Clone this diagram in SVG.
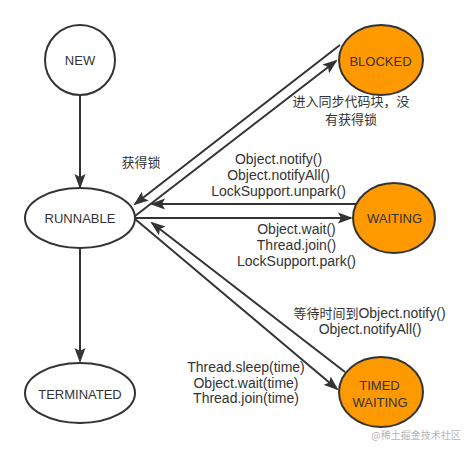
<svg xmlns="http://www.w3.org/2000/svg" width="473" height="453" viewBox="0 0 473 453">
<style>
.node{stroke:#333;stroke-width:2}
.w{fill:#fff}
.o{fill:#FF9900}
.lbl{font-family:"Liberation Sans","Noto Sans CJK SC",sans-serif;font-size:13px;fill:#333;text-anchor:middle}
.el{font-family:"Liberation Sans","Noto Sans CJK SC",sans-serif;font-size:14px;fill:#333;text-anchor:middle}
.cn{font-family:"Noto Sans CJK SC","Liberation Sans",sans-serif;font-size:13px;fill:#333;text-anchor:middle}
.edge{fill:none;stroke:#333;stroke-width:2}
</style>
<defs>
<marker id="arr" markerUnits="userSpaceOnUse" markerWidth="16" markerHeight="12" viewBox="0 0 16 12" refX="13" refY="6" orient="auto">
<path d="M0,0.5 L15,6 L0,11.5 L3,6 Z" fill="#333"/>
</marker>
</defs>
<rect width="473" height="453" fill="#fff"/>
<g id="connectors">
<line class="edge" x1="80" y1="95" x2="80" y2="187" marker-end="url(#arr)"/>
<line class="edge" x1="80" y1="248" x2="80" y2="361" marker-end="url(#arr)"/>
<line class="edge" x1="340" y1="45" x2="135" y2="204" marker-end="url(#arr)"/>
<line class="edge" x1="135" y1="216" x2="336" y2="61" marker-end="url(#arr)"/>
<line class="edge" x1="356" y1="204" x2="152" y2="204" marker-end="url(#arr)"/>
<line class="edge" x1="135" y1="218" x2="351" y2="218" marker-end="url(#arr)"/>
<line class="edge" x1="345" y1="372" x2="152" y2="223" marker-end="url(#arr)"/>
<line class="edge" x1="135" y1="219" x2="337" y2="389" marker-end="url(#arr)"/>
<text class="cn" x="141" y="167">获得锁</text>
<text class="cn" x="351" y="106" font-size="12.5">进入同步代码块，没</text>
<text class="cn" x="351" y="123.5" font-size="12.5">有获得锁</text>
<text class="el" x="278.5" y="164">Object.notify()</text>
<text class="el" x="278.5" y="180">Object.notifyAll()</text>
<text class="el" x="278.5" y="195.5">LockSupport.unpark()</text>
<text class="el" x="296.5" y="234">Object.wait()</text>
<text class="el" x="296.5" y="250">Thread.join()</text>
<text class="el" x="296.5" y="265.5">LockSupport.park()</text>
<text class="el" x="369.5" y="318"><tspan font-family="Noto Sans CJK SC, sans-serif" font-size="13">等待时间到</tspan>Object.notify()</text>
<text class="el" x="370" y="334">Object.notifyAll()</text>
<text class="el" x="246" y="371.5">Thread.sleep(time)</text>
<text class="el" x="246" y="387.5">Object.wait(time)</text>
<text class="el" x="246" y="403">Thread.join(time)</text>
</g>
<g id="new"><circle class="node w" cx="80" cy="60" r="35"/><text class="lbl" x="80" y="65">NEW</text></g>
<g id="runnable"><ellipse class="node w" cx="80" cy="218" rx="55" ry="30"/><text class="lbl" x="80" y="223">RUNNABLE</text></g>
<g id="terminated"><ellipse class="node w" cx="80" cy="393" rx="55" ry="30"/><text class="lbl" x="80" y="398.5">TERMINATED</text></g>
<g id="blocked"><ellipse class="node o" cx="381" cy="60" rx="42" ry="35"/><text class="lbl" x="380.5" y="65.5">BLOCKED</text></g>
<g id="waiting"><ellipse class="node o" cx="394" cy="218" rx="41" ry="35"/><text class="lbl" x="394.5" y="223">WAITING</text></g>
<g id="timed-waiting"><ellipse class="node o" cx="381" cy="392" rx="42" ry="35"/><text class="lbl" x="379.5" y="390">TIMED</text><text class="lbl" x="380" y="406.5">WAITING</text></g>
<text x="416" y="439" font-family="Noto Sans CJK SC, sans-serif" font-size="10" fill="#b5b5b5" text-anchor="middle">@稀土掘金技术社区</text>
</svg>
